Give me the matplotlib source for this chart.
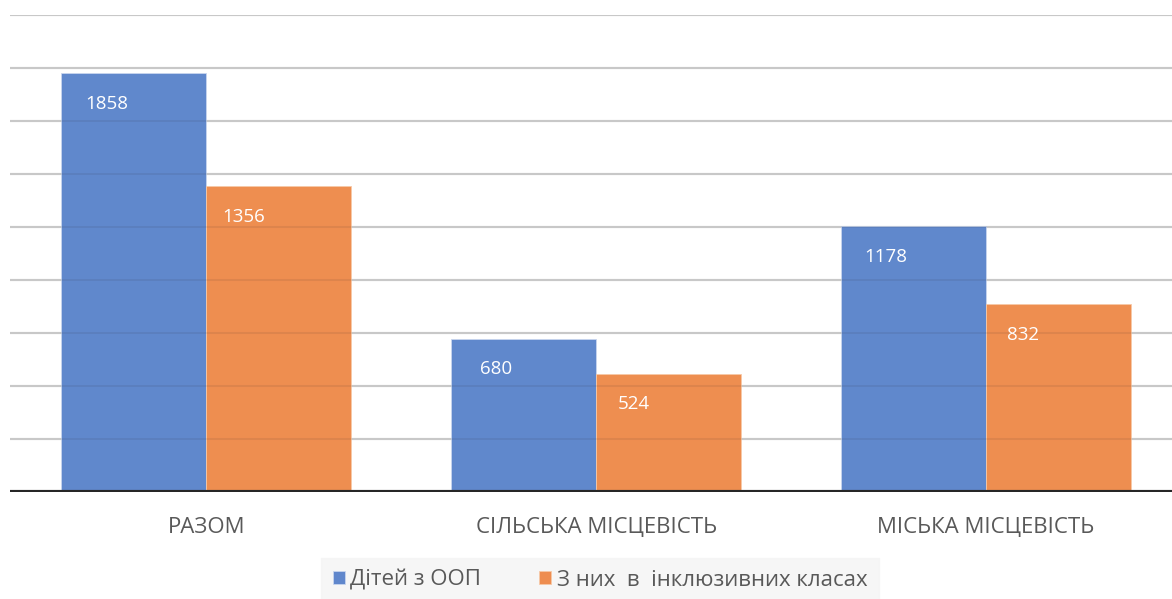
import matplotlib
matplotlib.use("Agg")
import matplotlib.pyplot as plt
import numpy as np

categories = ["РАЗОМ", "СІЛЬСЬКА МІСЦЕВІСТЬ", "МІСЬКА МІСЦЕВІСТЬ"]
series_names = ["Дітей з ООП", "З них  в  інклюзивних класах"]
children_sen = [1858, 680, 1178]
inclusive = [1356, 524, 832]

plt.rcParams['font.family'] = ['Open Sans', 'DejaVu Sans']

fig = plt.figure(figsize=(11.72, 5.99), dpi=100)
ax = fig.add_axes([10/1172, (599-492)/599, 1 - 10/1172, (492-15)/599])

x = np.arange(len(categories))
w = 0.372
blue = "#5b84cb"
orange = "#ee8a4a"
ymax = 2115

for gy in np.linspace(0, ymax, 10)[1:]:
    ax.axhline(gy, color="#d6d6d6", lw=1.6, zorder=0)

b1 = ax.bar(x - w/2, children_sen, w, color=blue, edgecolor="#c9d6ee", linewidth=0.6,
            label=series_names[0], zorder=2, alpha=0.97)
b2 = ax.bar(x + w/2, inclusive, w, color=orange, edgecolor="#f6c9a8", linewidth=0.6,
            label=series_names[1], zorder=2, alpha=0.97)

# faint gridlines seen through bars
for gy in np.linspace(0, ymax, 10)[1:]:
    ax.axhline(gy, color="#3a3a3a", lw=1.2, alpha=0.10, zorder=3)

off_pts = -22
for bars, vals, dx in ((b1, children_sen, -0.07), (b2, inclusive, -0.09)):
    for rect, v in zip(bars, vals):
        cx = rect.get_x() + rect.get_width()/2 + dx
        ax.annotate(str(v), (cx, v), xytext=(0, off_pts), textcoords="offset points",
                    ha="center", va="center", color="white", fontsize=13.5, zorder=4)

ax.axhline(0, color="#262626", lw=3, zorder=5)
ax.set_xlim(-0.503, 2.477)
ax.set_ylim(0, ymax)
ax.set_yticks([])
ax.set_xticks(x)
ax.set_xticklabels(categories, fontsize=16, color="#595959")
ax.tick_params(axis="x", length=0, pad=18)
for s in ax.spines.values():
    s.set_visible(False)

leg = fig.legend(handles=[b1, b2], labels=series_names, loc="center",
                 bbox_to_anchor=(600/1172, 1 - 580/599), ncol=2, frameon=True,
                 fontsize=16, handlelength=0.55, handleheight=0.55, handletextpad=0.25,
                 columnspacing=2.6, borderpad=0.5, fancybox=False)
leg.get_frame().set_facecolor("#f4f4f4")
leg.get_frame().set_edgecolor("#f4f4f4")
for t in leg.get_texts():
    t.set_color("#595959")

fig.savefig("out.png", dpi=100, facecolor="white")
